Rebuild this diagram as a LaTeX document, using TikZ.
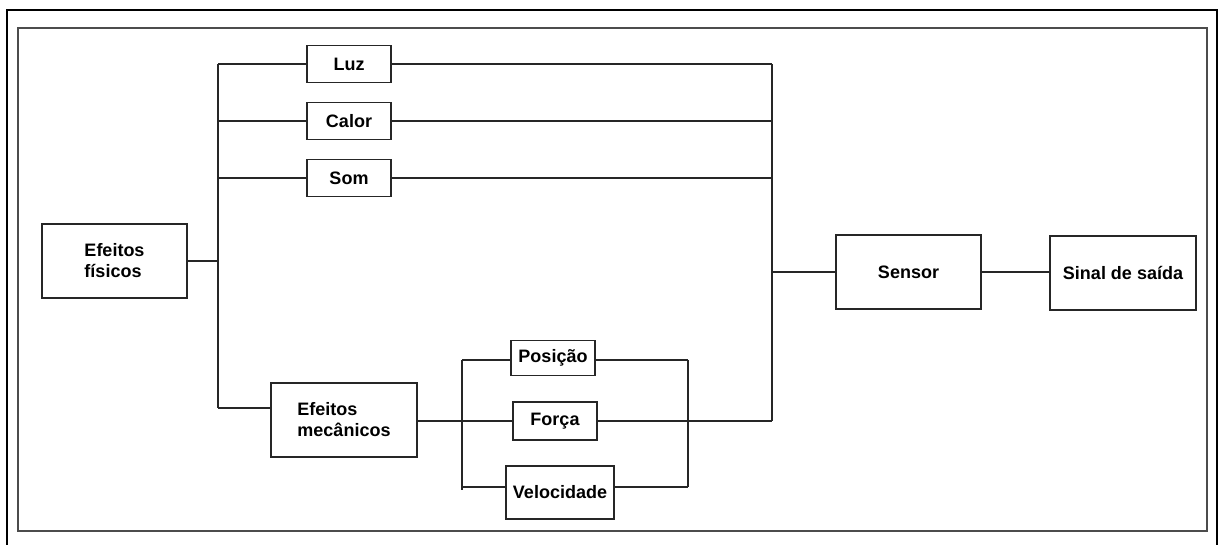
\documentclass[tikz,border=0pt]{standalone}
\usepackage{fontspec}
\setmainfont{Liberation Sans}
\begin{document}
\begin{tikzpicture}[x=1pt,y=-1pt,
  box/.style={draw=black!85, line width=1.6pt, inner sep=0pt, align=left,
    font=\fontsize{18}{21}\selectfont\bfseries},
  wire/.style={draw=black!85, line width=1.6pt}]
\useasboundingbox (0,0) rectangle (1219,544);
% frames
\draw[line width=2.4pt, black] (7,546) -- (7,10) -- (1217,10) -- (1217,546);
\draw[line width=2.4pt, black!70] (18,28) rectangle (1207,531);
% boxes
\node[box, minimum width=145pt, minimum height=74pt] (ef) at (114.5,261) {Efeitos\\físicos};
\node[box, minimum width=84pt, minimum height=37pt] (luz) at (349,64) {Luz};
\node[box, minimum width=84pt, minimum height=37pt] (calor) at (349,121) {Calor};
\node[box, minimum width=84pt, minimum height=37pt] (som) at (349,178) {Som};
\node[box, minimum width=145pt, minimum height=74pt] (sensor) at (908.5,272) {Sensor};
\node[box, minimum width=146pt, minimum height=74pt] (sinal) at (1123,273) {Sinal de saída};
\node[box, minimum width=146pt, minimum height=74pt] (mec) at (344,420) {Efeitos\\mecânicos};
\node[box, minimum width=84pt, minimum height=35pt] (pos) at (553,358) {Posição};
\node[box, minimum width=84pt, minimum height=38pt] (forca) at (555,421) {Força};
\node[box, minimum width=108pt, minimum height=53pt] (vel) at (560,492.5) {Velocidade};
% junction coordinates
\coordinate (ta) at (218,64);
\coordinate (tb) at (218,408);
\coordinate (ra) at (772,64);
\coordinate (rb) at (772,421);
\coordinate (la) at (462,360);
\coordinate (lb) at (462,490);
\coordinate (qa) at (688,360);
\coordinate (qb) at (688,487);
% left trunk
\draw[wire] (ef.east) -- (ef.east -| ta);
\draw[wire] (ta) -- (tb);
\draw[wire] (ta) -- (luz.west);
\draw[wire] (calor.west -| ta) -- (calor.west);
\draw[wire] (som.west -| ta) -- (som.west);
\draw[wire] (tb) -- (tb -| mec.west);
% right trunk
\draw[wire] (ra) -- (rb);
\draw[wire] (luz.east) -- (ra);
\draw[wire] (calor.east) -- (calor.east -| ra);
\draw[wire] (som.east) -- (som.east -| ra);
\draw[wire] (sensor.west -| ra) -- (sensor.west);
\draw[wire] (sensor.east) -- (sensor.east -| sinal.west);
% mechanical branch
\draw[wire] (forca.west -| mec.east) -- (forca.west);
\draw[wire] (la) -- (lb);
\draw[wire] (la) -- (la -| pos.west);
\draw[wire] (vel.west |- qb) -- (qb -| la);
\draw[wire] (pos.east |- qa) -- (qa);
\draw[wire] (qa) -- (qb);
\draw[wire] (vel.east |- qb) -- (qb);
\draw[wire] (forca.east) -- (rb);
\end{tikzpicture}
\end{document}
